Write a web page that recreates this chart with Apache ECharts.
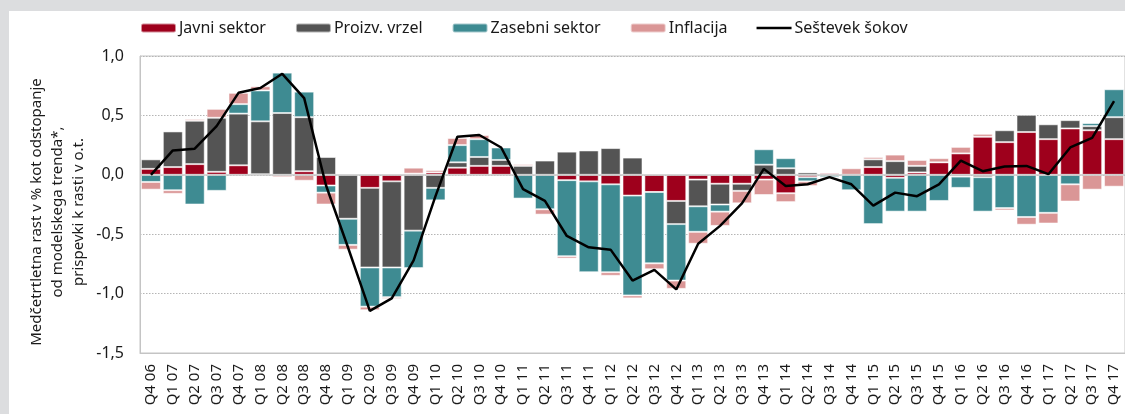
<!DOCTYPE html>
<html>
<head>
<meta charset="utf-8">
<script src="https://cdn.jsdelivr.net/npm/echarts@6/dist/echarts.min.js"></script>
<style>
  html, body { margin: 0; padding: 0; background: #dcdddf; }
  .panel { position: absolute; left: 9px; top: 11px; right: 0; bottom: 0; background: #fff; }
  .bar-chart { position: absolute; left: 0; top: 0; width: 1125px; height: 414px; }
</style>
</head>
<body>
<div class="panel"></div>
<div class="bar-chart" id="chart"></div>
<script>
// kategorije (četrtletja)
var categories = [
  'Q4 06',
  'Q1 07', 'Q2 07', 'Q3 07', 'Q4 07',
  'Q1 08', 'Q2 08', 'Q3 08', 'Q4 08',
  'Q1 09', 'Q2 09', 'Q3 09', 'Q4 09',
  'Q1 10', 'Q2 10', 'Q3 10', 'Q4 10',
  'Q1 11', 'Q2 11', 'Q3 11', 'Q4 11',
  'Q1 12', 'Q2 12', 'Q3 12', 'Q4 12',
  'Q1 13', 'Q2 13', 'Q3 13', 'Q4 13',
  'Q1 14', 'Q2 14', 'Q3 14', 'Q4 14',
  'Q1 15', 'Q2 15', 'Q3 15', 'Q4 15',
  'Q1 16', 'Q2 16', 'Q3 16', 'Q4 16',
  'Q1 17', 'Q2 17', 'Q3 17', 'Q4 17'
];

var javniSektor = [
  0.05,
  0.065, 0.09, 0.025, 0.08,
  0.005, 0, 0.03, -0.09,
  0, -0.11, -0.055, 0.01,
  0.02, 0.06, 0.075, 0.075,
  0, 0, -0.045, -0.055,
  -0.08, -0.175, -0.145, -0.22,
  -0.04, -0.075, -0.075, -0.04,
  -0.155, -0.02, 0.015, 0,
  0.065, -0.025, 0.02, 0.105,
  0.18, 0.32, 0.275, 0.36,
  0.30, 0.39, 0.375, 0.30
];

var proizvVrzel = [
  0.08,
  0.30, 0.365, 0.455, 0.435,
  0.445, 0.52, 0.455, 0.15,
  -0.37, -0.67, -0.725, -0.47,
  -0.11, 0.045, 0.075, 0.05,
  0.075, 0.12, 0.195, 0.205,
  0.225, 0.145, 0, -0.195,
  -0.225, -0.175, -0.06, 0.085,
  0.055, 0.02, 0.005, 0,
  0.065, 0.115, 0.055, 0,
  -0.015, -0.02, 0.10, 0.145,
  0.125, 0.07, 0.035, 0.185
];

var zasebniSektor = [
  -0.06,
  -0.13, -0.25, -0.135, 0.08,
  0.26, 0.34, 0.215, -0.06,
  -0.22, -0.33, -0.25, -0.315,
  -0.105, 0.145, 0.15, 0.105,
  -0.2, -0.29, -0.64, -0.765,
  -0.74, -0.84, -0.60, -0.475,
  -0.215, -0.06, 0.01, 0.13,
  0.085, -0.035, -0.02, -0.13,
  -0.415, -0.285, -0.31, -0.22,
  -0.095, -0.29, -0.28, -0.355,
  -0.32, -0.08, 0.025, 0.235
];

var inflacija = [
  -0.065,
  -0.03, 0.015, 0.075, 0.095,
  0.035, -0.02, -0.05, -0.10,
  -0.04, -0.03, -0.015, 0.05,
  0.02, 0.06, 0.035, 0,
  0.015, -0.045, -0.02, 0.005,
  -0.03, -0.025, -0.05, -0.07,
  -0.10, -0.12, -0.105, -0.13,
  -0.075, -0.04, -0.01, 0.055,
  0.02, 0.055, 0.05, 0.035,
  0.055, 0.025, -0.02, -0.065,
  -0.09, -0.145, -0.125, -0.10
];

var sestevekSokov = [
  0.0,
  0.205, 0.22, 0.41, 0.69,
  0.73, 0.85, 0.645, -0.09,
  -0.61, -1.145, -1.04, -0.72,
  -0.18, 0.32, 0.335, 0.23,
  -0.12, -0.22, -0.515, -0.61,
  -0.63, -0.89, -0.80, -0.965,
  -0.58, -0.43, -0.24, 0.05,
  -0.095, -0.08, -0.02, -0.08,
  -0.26, -0.15, -0.18, -0.08,
  0.12, 0.03, 0.07, 0.075,
  0.005, 0.23, 0.31, 0.62
];

var yTicks = { min: -1.5, max: 1, interval: 0.5 };

var font = '"Noto Sans", "DejaVu Sans", sans-serif';
var textColor = '#1a1a1a';

function barSeries(name, data, color) {
  return {
    type: 'bar',
    name: name,
    stack: 'sum',
    data: data,
    barWidth: 20,
    itemStyle: {
      color: color,
      borderColor: 'rgba(255,255,255,0.55)',
      borderWidth: 1
    },
    emphasis: { disabled: true }
  };
}

var series = [
  barSeries('Javni sektor', javniSektor, '#9e001c'),
  barSeries('Proizv. vrzel', proizvVrzel, '#545454'),
  barSeries('Zasebni sektor', zasebniSektor, '#3e8b92'),
  barSeries('Inflacija', inflacija, '#da9696')
];

// ničelna črta
series[3].markLine = {
  silent: true,
  symbol: 'none',
  label: { show: false },
  lineStyle: { color: '#c9c9c9', width: 1.5, type: 'solid' },
  data: [{ yAxis: 0 }]
};

series.push({
  type: 'line',
  name: 'Seštevek šokov',
  data: sestevekSokov,
  symbol: 'none',
  z: 5,
  lineStyle: { color: '#000', width: 2.5 },
  itemStyle: { color: '#000' }
});

var chart = echarts.init(document.getElementById('chart'));
chart.setOption({
  animation: false,
  textStyle: { fontFamily: font },
  legend: {
    left: 135,
    top: 15,
    itemWidth: 35,
    itemHeight: 9,
    itemGap: 29,
    textStyle: { fontSize: 16, color: textColor, fontFamily: font, padding: [0, 0, 0, -2] },
    data: [
      'Javni sektor',
      'Proizv. vrzel',
      'Zasebni sektor',
      'Inflacija',
      { name: 'Seštevek šokov', icon: 'path://M0,0H35V2.4H0Z' }
    ]
  },
  grid: {
    left: 140,
    top: 56,
    right: -5,
    bottom: 61,
    show: true,
    borderColor: '#c4c4c4',
    borderWidth: 1
  },
  xAxis: {
    type: 'category',
    data: categories,
    axisLine: { onZero: false, lineStyle: { color: '#c4c4c4' } },
    axisTick: { show: false },
    axisLabel: {
      interval: 0,
      rotate: 90,
      margin: 11,
      fontSize: 15,
      color: textColor,
      fontFamily: font
    }
  },
  yAxis: {
    type: 'value',
    min: yTicks.min,
    max: yTicks.max,
    interval: yTicks.interval,
    axisLine: { show: true, lineStyle: { color: '#c4c4c4' } },
    axisTick: { show: false },
    splitLine: { lineStyle: { color: '#b5b5b5', type: [1.5, 1.5], width: 1 } },
    axisLabel: {
      margin: 16,
      fontSize: 16,
      color: textColor,
      fontFamily: font,
      formatter: function (v) {
        return v.toFixed(1).replace('.', ',');
      }
    }
  },
  graphic: [{
    type: 'text',
    x: 58,
    y: 212,
    rotation: Math.PI / 2,
    style: {
      text: 'Medčetrtletna rast v % kot odstopanje\nod modelskega trenda*,\nprispevki k rasti v o.t.',
      font: '15px ' + font,
      fill: textColor,
      textAlign: 'center',
      textVerticalAlign: 'middle',
      verticalAlign: 'middle',
      lineHeight: 21
    }
  }],
  series: series
});
</script>
</body>
</html>
